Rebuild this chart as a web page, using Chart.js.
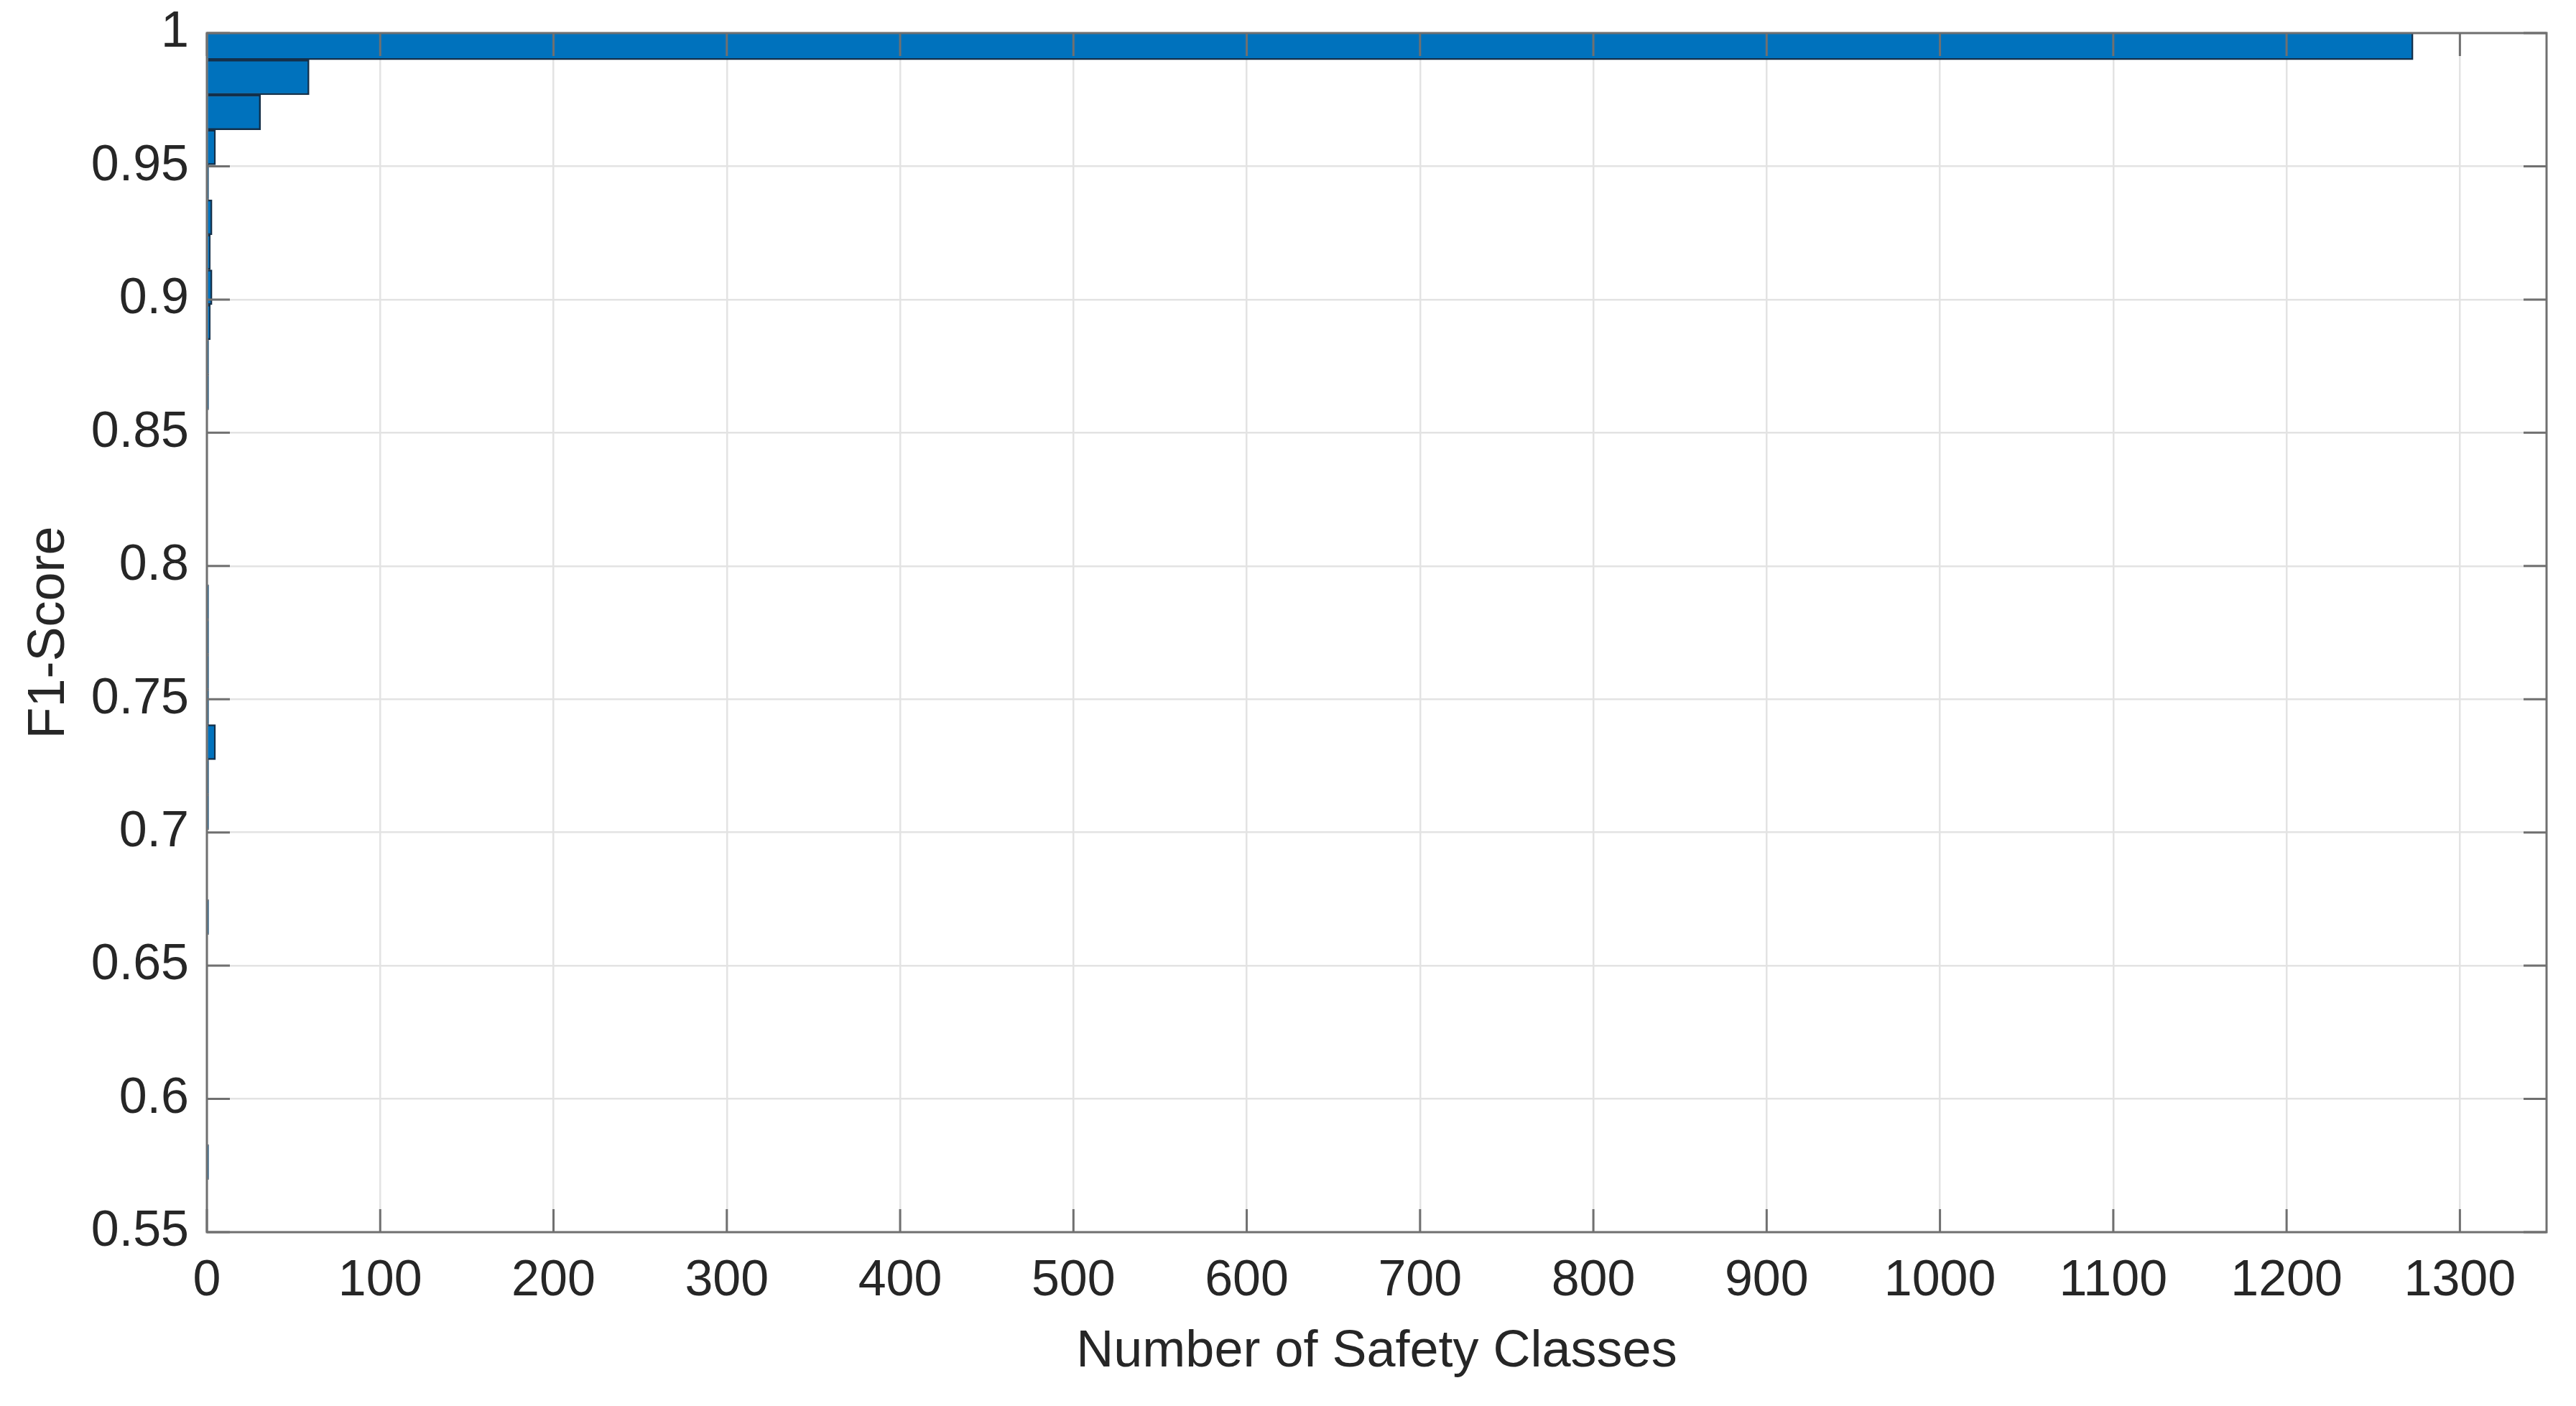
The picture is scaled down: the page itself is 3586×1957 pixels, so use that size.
<!DOCTYPE html>
<html>
<head>
<meta charset="utf-8">
<title>F1-Score histogram</title>
<script src="https://cdn.jsdelivr.net/npm/chart.js@4/dist/chart.umd.min.js"></script>
<style>
  html, body { margin: 0; background: #fff; }
  #wrap { width: 3586px; height: 1957px; position: relative; }
</style>
</head>
<body>
<div id="wrap"><canvas id="f1Chart"></canvas></div>
<script>
// F1-score bin centres (top bin is cut off by the axis at 1)
const binCenters = [
  0.99651, 0.98337, 0.97024, 0.95711, 0.94398, 0.93085, 0.91772, 0.90459,
  0.89146, 0.87833, 0.86520, 0.85206, 0.83893, 0.82580, 0.81267, 0.79954,
  0.78641, 0.77328, 0.76015, 0.74702, 0.73389, 0.72075, 0.70762, 0.69449,
  0.68136, 0.66823, 0.65510, 0.64197, 0.62884, 0.61571, 0.60258, 0.58944,
  0.57631
];
// number of safety classes in each bin
const classCounts = [
  1273, 59, 31, 5, 1, 3, 2, 3,
  2, 1, 1, 0, 0, 0, 0, 0,
  1, 1, 1, 1, 5, 1, 1, 0,
  0, 1, 0, 0, 0, 0, 0, 0,
  1
];
const xTicks = [0, 100, 200, 300, 400, 500, 600, 700, 800, 900, 1000, 1100, 1200, 1300];
const yTicks = [0.55, 0.6, 0.65, 0.7, 0.75, 0.8, 0.85, 0.9, 0.95, 1];

const fontFamily = "'Liberation Sans', Arial, Helvetica, sans-serif";
const textColor = '#262626';
const axisColor = '#707070';
const gridColor = '#e3e3e3';

// MATLAB style box with inward ticks on all four sides
const axisBox = {
  id: 'axisBox',
  afterDatasetsDraw(chart) {
    const { ctx, chartArea: a, scales: { x, y } } = chart;
    const len = 32;
    ctx.save();
    ctx.strokeStyle = axisColor;
    ctx.lineWidth = 3;
    ctx.beginPath();
    xTicks.forEach(v => {
      const px = x.getPixelForValue(v);
      ctx.moveTo(px, a.bottom); ctx.lineTo(px, a.bottom - len);
      ctx.moveTo(px, a.top); ctx.lineTo(px, a.top + len);
    });
    yTicks.forEach(v => {
      const py = y.getPixelForValue(v);
      ctx.moveTo(a.left, py); ctx.lineTo(a.left + len, py);
      ctx.moveTo(a.right, py); ctx.lineTo(a.right - len, py);
    });
    ctx.stroke();
    ctx.strokeRect(a.left, a.top, a.right - a.left, a.bottom - a.top);
    ctx.restore();
  }
};

new Chart(document.getElementById('f1Chart'), {
  type: 'bar',
  data: {
    datasets: [{
      label: 'Safety classes',
      data: binCenters.map((c, i) => ({ x: classCounts[i], y: c })),
      backgroundColor: '#0072BD',
      borderColor: '#14304a',
      borderWidth: 2.5,
      borderSkipped: 'start',
      barPercentage: 1,
      categoryPercentage: 1,
      clip: 0
    }]
  },
  options: {
    indexAxis: 'y',
    responsive: true,
    maintainAspectRatio: false,
    animation: false,
    layout: { padding: { top: 46, right: 41, left: 0, bottom: 0 } },
    plugins: {
      legend: { display: false },
      tooltip: { enabled: false }
    },
    scales: {
      x: {
        type: 'linear',
        min: 0,
        max: 1350,
        afterBuildTicks: s => { s.ticks = xTicks.map(v => ({ value: v })); },
        afterFit: s => { s.height = 242; },
        grid: { color: gridColor, lineWidth: 2.5, drawTicks: false },
        border: { display: false },
        ticks: { padding: 27, color: textColor, font: { family: fontFamily, size: 70 }, callback: v => String(v) },
        title: {
          display: true,
          text: 'Number of Safety Classes',
          color: textColor,
          font: { family: fontFamily, size: 72 },
          padding: { top: 0, bottom: 32 }
        }
      },
      y: {
        type: 'linear',
        min: 0.55,
        max: 1,
        offset: false,
        afterBuildTicks: s => { s.ticks = yTicks.map(v => ({ value: v })); },
        // fixed width, and no extra inset for the top/bottom label overhang
        afterFit: s => { s.width = 288; s.paddingTop = 0; s.paddingBottom = 0; },
        grid: { color: gridColor, lineWidth: 2.5, drawTicks: false, offset: false },
        border: { display: false },
        ticks: { padding: 25, color: textColor, font: { family: fontFamily, size: 70 }, callback: v => String(v) },
        title: {
          display: true,
          text: 'F1-Score',
          color: textColor,
          font: { family: fontFamily, size: 72 },
          padding: { top: 26, bottom: 0 }
        }
      }
    }
  },
  plugins: [axisBox]
});
</script>
</body>
</html>
